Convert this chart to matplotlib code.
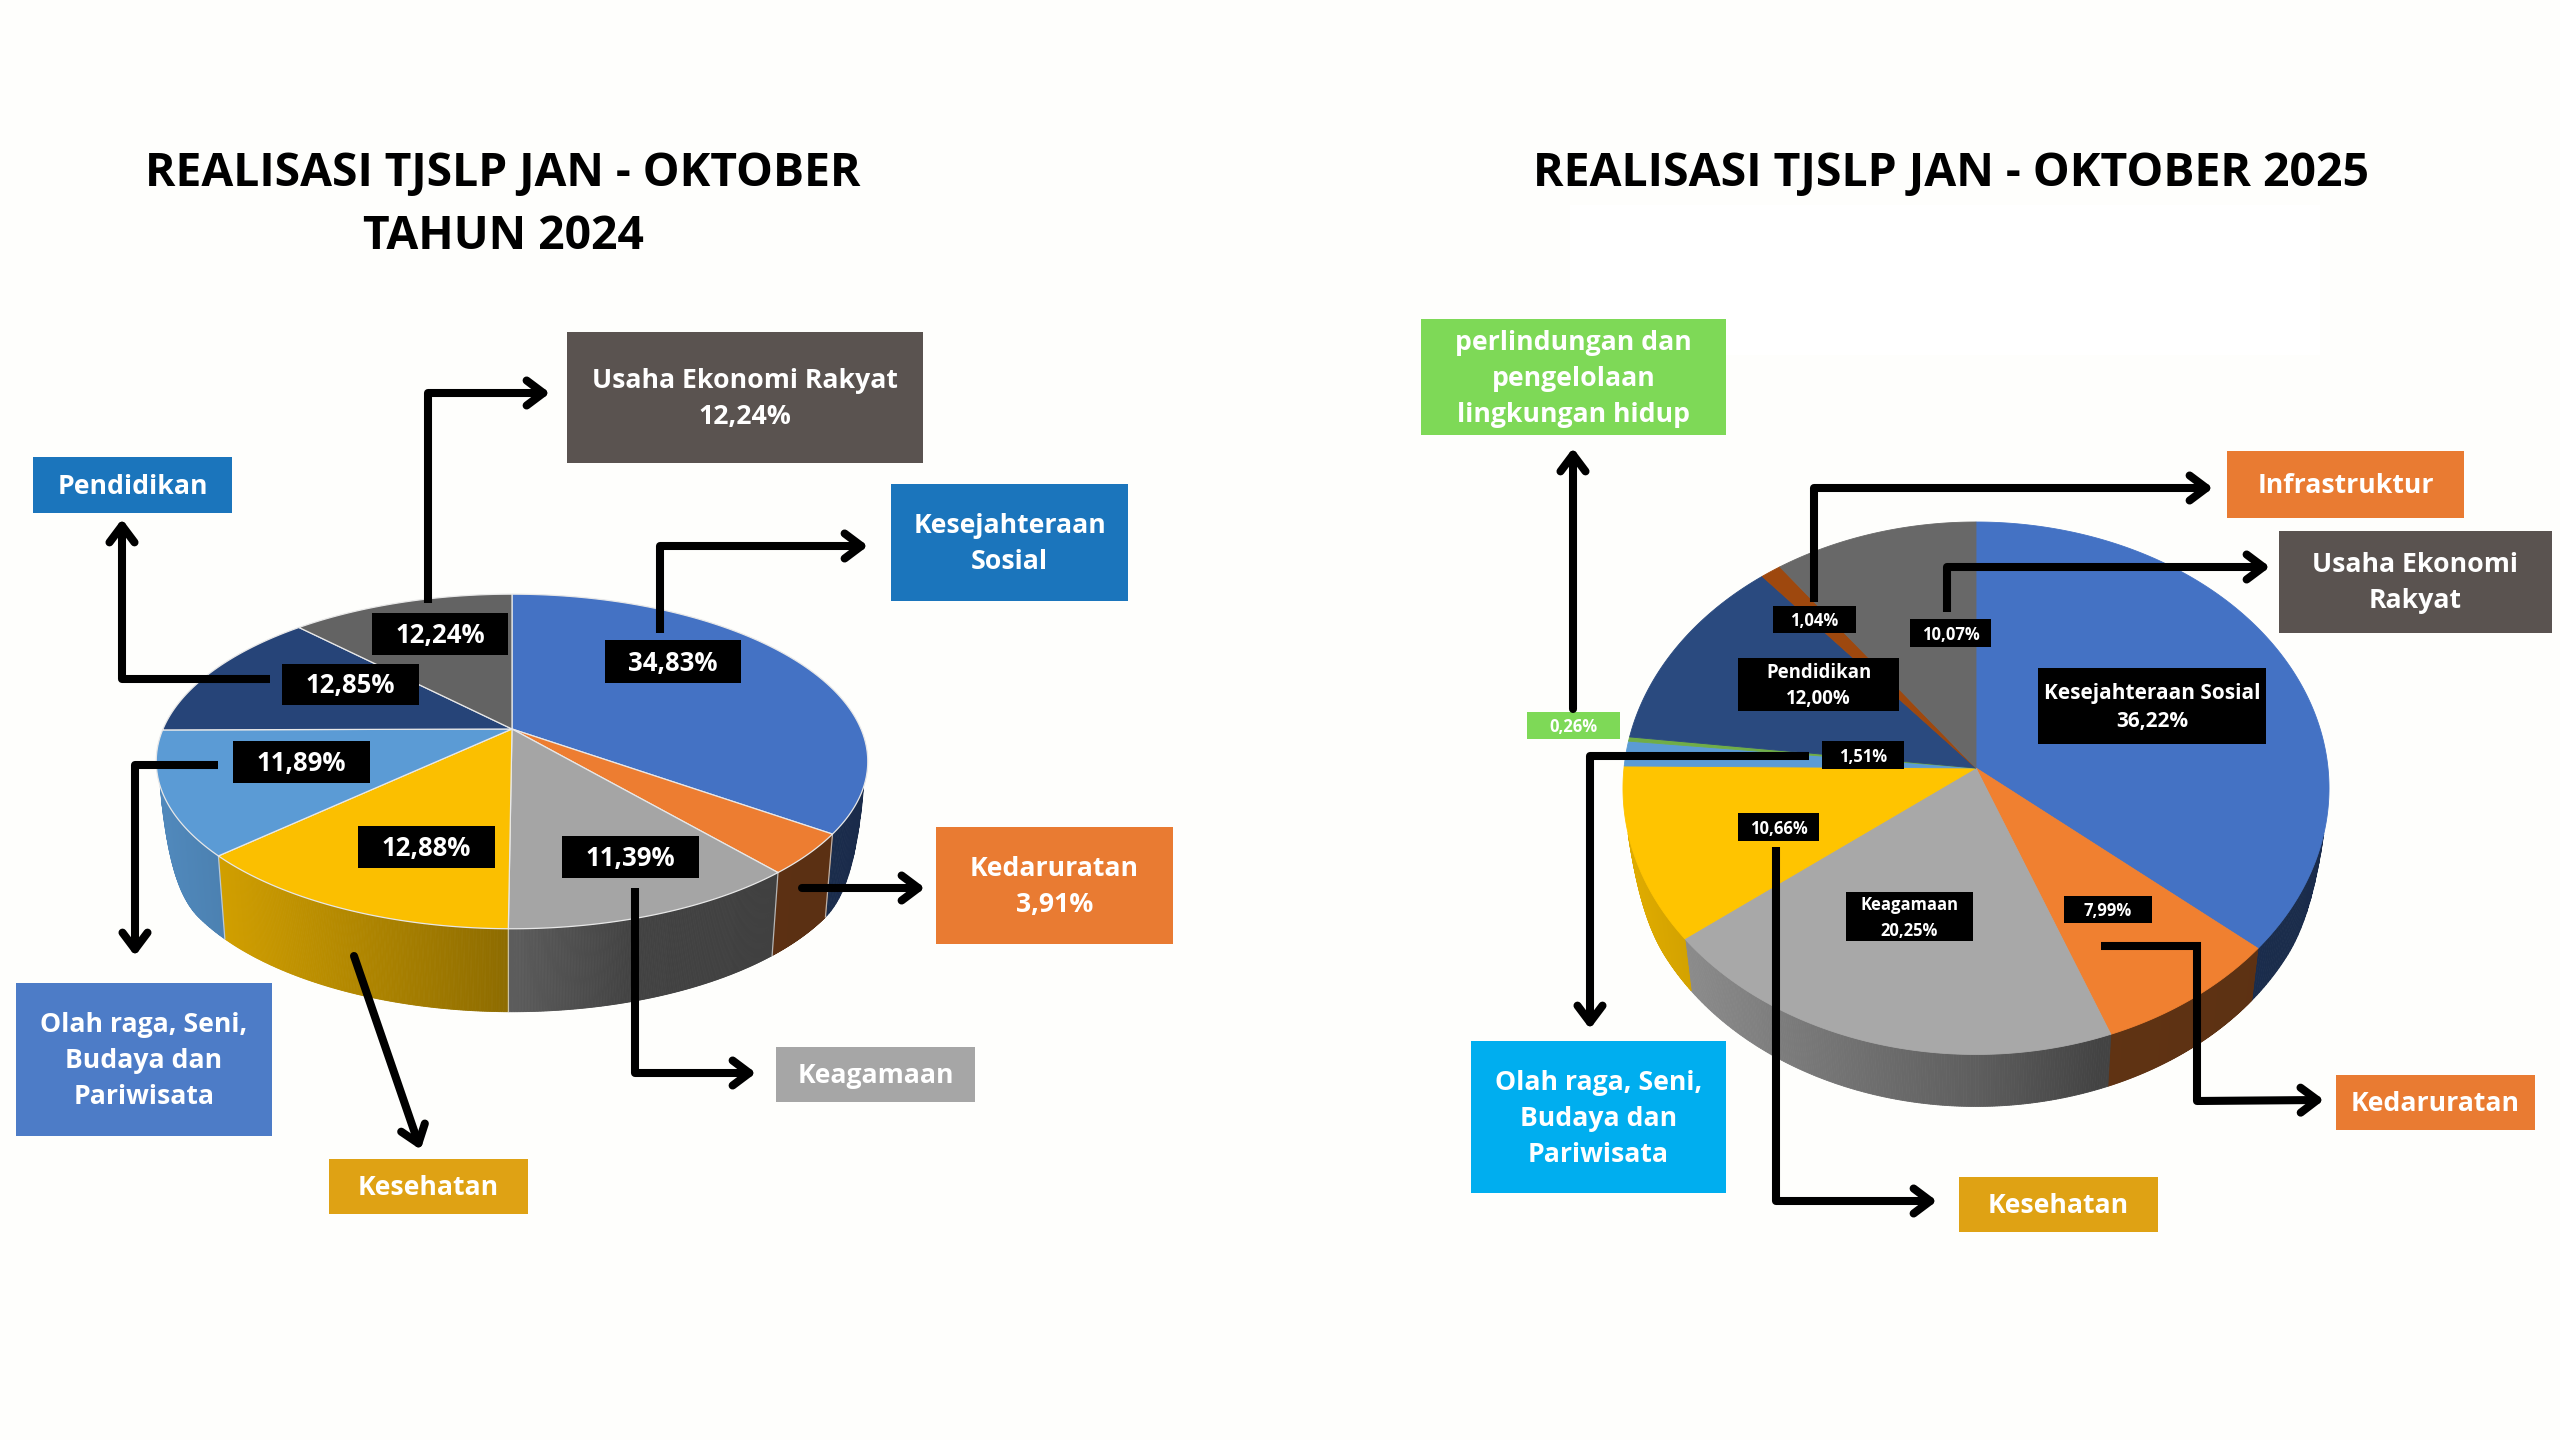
import numpy as np
from matplotlib import pyplot as plt
from matplotlib.patches import Polygon, Rectangle

plt.rcParams['font.family'] = ['Open Sans', 'DejaVu Sans']

'''
DATA
'''

title_2024 = 'REALISASI TJSLP JAN - OKTOBER\nTAHUN 2024'
title_2025 = 'REALISASI TJSLP JAN - OKTOBER 2025'

# Share per programme, clockwise from 12 o'clock
values_2024 = [34.83, 3.91, 11.39, 12.88, 11.89, 12.85, 12.24]
values_2025 = [36.22, 7.99, 20.25, 10.66, 1.51, 0.26, 12.00, 1.04, 10.07]

colors_2024 = ['#4472c4', '#ed7d31', '#a5a5a5', '#fbbf00', '#5b9bd5', '#264478', '#636363']
colors_2025 = ['#4472c4', '#f08030', '#a8a8a8', '#ffc400', '#5b9bd5', '#70ad47', '#2a4a7f', '#9e480e', '#686868']

labels_2024 = ['34,83%', '3,91%', '11,39%', '12,88%', '11,89%', '12,85%', '12,24%']
labels_2025 = ['36,22%', '7,99%', '20,25%', '10,66%', '1,51%', '0,26%', '12,00%', '1,04%', '10,07%']

'''
HELPERS
'''

fig = plt.figure(figsize=(25.6, 14.4), dpi=100, facecolor='#fefefc')
ax = fig.add_axes([0, 0, 1, 1])
ax.set_xlim(0, 2560)
ax.set_ylim(1440, 0)
ax.axis('off')


# Circle to screen, with the near side of the pie drawn bigger
def project(t, pie):
	u, v = np.sin(t), -np.cos(t)
	w = 1 - pie['k'] * v
	return pie['cx'] + pie['a'] * u / w, pie['cy'] + pie['b'] * v / w


def shade(color, x, pie):
	rgb = np.array(plt.matplotlib.colors.to_rgb(color))
	f = np.interp((x - pie['cx']) / pie['a'], [-1, -0.8, 0, 0.35, 1], [0.88, 0.82, 0.56, 0.4, 0.38])
	return tuple(rgb * f)


# Lower rim of the wall: slightly narrower, and it meets the top rim at the sides
def lower_rim(t, x, y, pie):
	q = np.clip((-np.cos(t) - pie['v0']) / 0.25, 0, 1)
	g = np.sqrt(1 - (1 - q)**2)
	return pie['cx'] + (x - pie['cx']) * (1 - 0.022 * g), y + pie['depth'] * g


def draw_pie(values, colors, pie):
	edges = np.cumsum([0] + list(values)) / sum(values) * 2 * np.pi
	# Side wall first
	for i, color in enumerate(colors):
		t = np.linspace(edges[i], edges[i + 1], 200)
		x, y = project(t, pie)
		xb, yb = lower_rim(t, x, y, pie)
		front = -np.cos(t) >= pie['v0']
		for j in range(len(t) - 1):
			if front[j] and front[j + 1]:
				quad = [(x[j], y[j]), (x[j + 1], y[j + 1]), (xb[j + 1], yb[j + 1]), (xb[j], yb[j])]
				c = shade(color, x[j], pie)
				ax.add_patch(Polygon(quad, fc=c, ec=c, lw=0.6, zorder=2))
		if pie['edge'] and front[0] and i > 0:
			ax.plot([x[0], xb[0]], [y[0], yb[0]], color=pie['edge'], lw=pie['edge_lw'], alpha=0.7, zorder=2.5)
	# Then the top face
	for i, color in enumerate(colors):
		t = np.linspace(edges[i], edges[i + 1], 200)
		x, y = project(t, pie)
		pts = np.vstack(([pie['cx'], pie['cy']], np.column_stack((x, y))))
		ax.add_patch(Polygon(pts, fc=color, ec=pie['edge'] or color, lw=pie['edge_lw'], zorder=3))


def box(x0, y0, x1, y1, text, color, size=19.2, linespacing=1.5):
	ax.add_patch(Rectangle((x0, y0), x1 - x0, y1 - y0, fc=color, ec='none', zorder=5))
	ax.text((x0 + x1) / 2, (y0 + y1) / 2 + 1.5, text, color='white', fontsize=size, fontweight='bold',
			ha='center', va='center', linespacing=linespacing, zorder=6)


def arrow(points):
	xs, ys = zip(*points)
	ax.plot(xs[:-1], ys[:-1], color='black', lw=5.8, solid_joinstyle='miter', solid_capstyle='butt', zorder=7)
	# Push the tip out a little so the round cap lands where the reference tip is
	d = np.subtract(points[-1], points[-2])
	tip = np.array(points[-1]) + 5 * d / np.hypot(*d)
	ax.annotate('', xy=tip, xytext=points[-2], zorder=7,
				arrowprops=dict(arrowstyle='->,head_length=1.2,head_width=0.9', mutation_scale=10,
								color='black', lw=5.8, shrinkA=0, shrinkB=0))


'''
LEFT CHART
'''

pie_left = dict(cx=512, cy=729, a=349, b=161, k=0.194, v0=0.33, depth=83, edge='#e8e8e8', edge_lw=0.9)
draw_pie(values_2024, colors_2024, pie_left)

ax.text(503, 205, title_2024, color='black', fontsize=33.3, fontweight='bold', ha='center', va='center', linespacing=1.46)

box(567, 332, 923, 463, 'Usaha Ekonomi Rakyat\n12,24%', '#5a5350')
box(33, 457, 232, 513, 'Pendidikan', '#1b75bc')
box(891, 484, 1128, 601, 'Kesejahteraan\nSosial', '#1b75bc')
box(936, 827, 1173, 944, 'Kedaruratan\n3,91%', '#e97b32')
box(776, 1047, 975, 1102, 'Keagamaan', '#a6a6a6')
box(329, 1159, 528, 1214, 'Kesehatan', '#dfa214')
box(16, 983, 272, 1136, 'Olah raga, Seni,\nBudaya dan\nPariwisata', '#4d7cc7')

box(605, 640, 741, 683, labels_2024[0], 'black', 18.5)
box(562, 836, 699, 878, labels_2024[2], 'black', 18.5)
box(358, 826, 495, 868, labels_2024[3], 'black', 18.5)
box(233, 741, 370, 783, labels_2024[4], 'black', 18.5)
box(282, 664, 419, 705, labels_2024[5], 'black', 18.5)
box(372, 613, 508, 655, labels_2024[6], 'black', 18.5)

arrow([(428, 603), (428, 393), (545, 393)])
arrow([(660, 633), (660, 546), (863, 546)])
arrow([(270, 679), (122, 679), (122, 524)])
arrow([(218, 765), (135, 765), (135, 951)])
arrow([(354, 956), (419, 1145)])
arrow([(635, 888), (635, 1073), (751, 1073)])
arrow([(802, 888), (920, 888)])

'''
RIGHT CHART
'''

# White patch under the title
ax.add_patch(Rectangle((1570, 205), 750, 150, fc='white', ec='none', zorder=1))

pie_right = dict(cx=1976, cy=768, a=352, b=264.7, k=0.076, v0=0.24, depth=52, edge=None, edge_lw=0.6)
draw_pie(values_2025, colors_2025, pie_right)

ax.text(1951, 173, title_2025, color='black', fontsize=33.4, fontweight='bold', ha='center', va='center')

box(1421, 319, 1726, 435, 'perlindungan dan\npengelolaan\nlingkungan hidup', '#7ed957')
box(2227, 451, 2464, 518, 'Infrastruktur', '#e97b32')
box(2279, 531, 2552, 633, 'Usaha Ekonomi\nRakyat', '#5a5350')
box(2336, 1075, 2535, 1130, 'Kedaruratan', '#e97b32')
box(1959, 1177, 2158, 1232, 'Kesehatan', '#dfa214')
box(1471, 1041, 1726, 1193, 'Olah raga, Seni,\nBudaya dan\nPariwisata', '#00aeef')

box(2038, 668, 2266, 744, 'Kesejahteraan Sosial\n' + labels_2025[0], 'black', 15, 1.45)
box(2064, 896, 2152, 923, labels_2025[1], 'black', 12)
box(1846, 892, 1973, 941, 'Keagamaan\n' + labels_2025[2], 'black', 12, 1.55)
box(1738, 813, 1819, 841, labels_2025[3], 'black', 12)
box(1822, 741, 1904, 769, labels_2025[4], 'black', 12)
box(1527, 712, 1620, 739, labels_2025[5], '#7ed957', 12)
box(1738, 658, 1899, 711, 'Pendidikan\n' + labels_2025[6], 'black', 13.4, 1.43)
box(1773, 606, 1856, 633, labels_2025[7], 'black', 12)
box(1910, 619, 1991, 647, labels_2025[8], 'black', 12)

arrow([(1814, 602), (1814, 488), (2208, 488)])
arrow([(1947, 612), (1947, 567), (2265, 567)])
arrow([(1573, 709), (1573, 453)])
arrow([(1809, 756), (1590, 756), (1590, 1024)])
arrow([(1776, 847), (1776, 1201), (1932, 1201)])
arrow([(2101, 946), (2197, 946), (2197, 1101), (2319, 1100)])

fig.savefig('out.png', dpi=100, facecolor=fig.get_facecolor())
